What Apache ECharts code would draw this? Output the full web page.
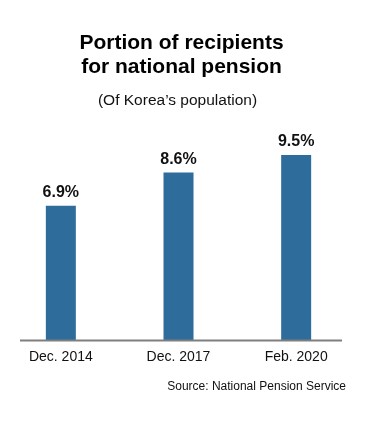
<!DOCTYPE html>
<html>
<head>
<meta charset="utf-8">
<script src="https://cdn.jsdelivr.net/npm/echarts@6/dist/echarts.min.js"></script>
<style>
html,body{margin:0;padding:0;background:#fff;}
#chart{width:380px;height:422px;}
</style>
</head>
<body>
<div id="chart"></div>
<script>
var categories = ['Dec. 2014', 'Dec. 2017', 'Feb. 2020'];
var values = [6.9, 8.6, 9.5];
var titleText = 'Portion of recipients\nfor national pension';
var subtitleText = '(Of Korea\u2019s population)';
var sourceText = 'Source: National Pension Service';

var FONT = '"Liberation Sans", Arial, Helvetica, sans-serif';
var chart = echarts.init(document.getElementById('chart'), null, {renderer: 'canvas'});
chart.setOption({
  backgroundColor: '#ffffff',
  animation: false,
  grid: {left: 2, right: 25, top: 145.3, bottom: 82, containLabel: false},
  xAxis: {
    type: 'category',
    data: categories,
    axisLine: {show: false},
    axisTick: {show: false},
    axisLabel: {fontSize: 14, color: '#111', fontFamily: FONT, margin: 10}
  },
  yAxis: {
    type: 'value', min: 0, max: 10,
    show: false,
    splitLine: {show: false}
  },
  series: [{
    type: 'bar',
    data: values,
    barWidth: 30,
    itemStyle: {color: '#2e6c9c'},
    label: {
      show: true, position: 'top', distance: 5,
      formatter: function (p) { return p.value.toFixed(1) + '%'; },
      fontSize: 16, fontWeight: 'bold', color: '#111', fontFamily: FONT
    }
  }],
  graphic: [
    {type: 'line', z: 100, shape: {x1: 20, y1: 340.5, x2: 342, y2: 340.5},
     style: {stroke: '#7f7f7f', lineWidth: 2}},
    {type: 'text', x: 181.5, y: 55, style: {text: titleText, textAlign: 'center', textVerticalAlign: 'middle',
      fontSize: 21, fontWeight: 'bold', fontFamily: FONT, fill: '#000', lineHeight: 24}},
    {type: 'text', x: 177.5, y: 101, style: {text: subtitleText, textAlign: 'center', textVerticalAlign: 'middle',
      fontSize: 15.5, fontFamily: FONT, fill: '#111'}},
    {type: 'text', x: 346, y: 387, style: {text: sourceText, textAlign: 'right', textVerticalAlign: 'middle',
      fontSize: 12, fontFamily: FONT, fill: '#111'}}
  ]
});
</script>
</body>
</html>
